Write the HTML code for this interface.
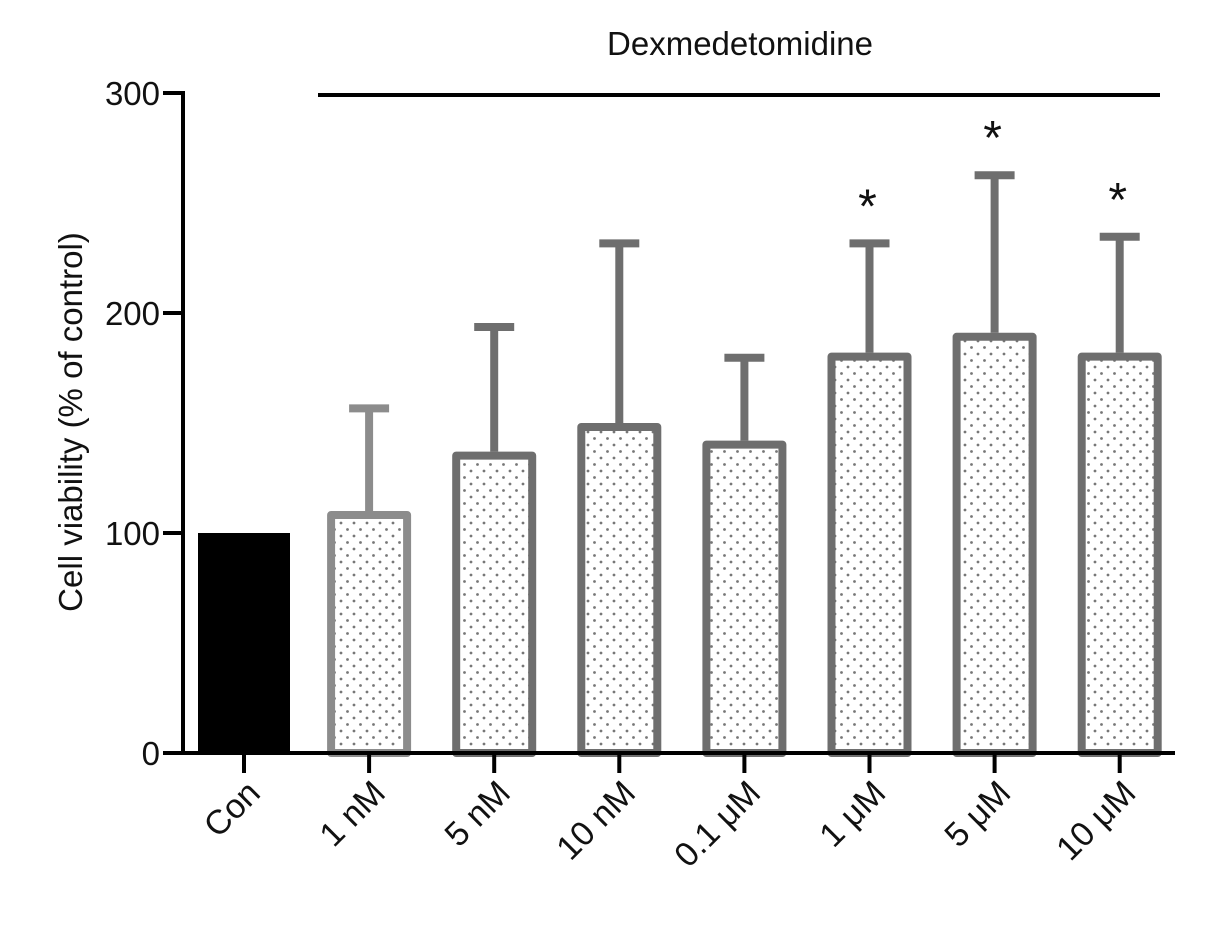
<!DOCTYPE html>
<html><head><meta charset="utf-8"><style>
body{margin:0;background:#fff}
svg text{font-family:"Liberation Sans",Arial,sans-serif}
</style></head><body>
<svg id="chart" width="1205" height="922" xmlns="http://www.w3.org/2000/svg">
<defs>
<pattern id="dots" width="13" height="13" patternUnits="userSpaceOnUse">
<rect width="13" height="13" fill="#fff"/>
<circle cx="3" cy="3" r="1.4" fill="#777"/>
<circle cx="9.5" cy="9.5" r="1.4" fill="#777"/>
</pattern>
</defs>
<g id="plot"></g>
</svg>
<script>
const categories=["Con","1 nM","5 nM","10 nM","0.1 \u03bcM","1 \u03bcM","5 \u03bcM","10 \u03bcM"];
const means=[100,110,137,150,142,182,191,182];
const errors=[0,48,58,83,39,51,73,54];
const significant=[false,false,false,false,false,true,true,true];
const yTicks=[0,100,200,300];
const NS="http://www.w3.org/2000/svg";
const g=document.getElementById('plot');
const y0=753,yScale=2.2;
const yPos=v=>y0-v*yScale;
const xPos=i=>244+i*125.1;
function el(t,a){const e=document.createElementNS(NS,t);for(const k in a)e.setAttribute(k,a[k]);g.appendChild(e);return e;}
categories.forEach((c,i)=>{
  const cx=xPos(i),w=i===0?92:84;
  if(i===0){
    const r=el('rect',{x:cx-w/2,y:yPos(means[i]),width:w,height:y0-yPos(means[i]),fill:'#000'});
    
    
  }else{
    const col=i===1?'#8c8c8c':'#6e6e6e';
    const top=yPos(means[i]),etop=yPos(means[i]+errors[i]);
    const l=el('line',{x1:cx,x2:cx,y1:top,y2:etop,stroke:col,'stroke-width':8});
    
    
    const cap=el('line',{x1:cx-20,x2:cx+20,y1:etop+3,y2:etop+3,stroke:col,'stroke-width':8});
    
    
    const r=el('rect',{x:cx-w/2+4,y:top+4,width:w-8,height:y0-top-4,fill:'url(#dots)',stroke:col,'stroke-width':8,'stroke-linejoin':'round'});
    
    
    if(significant[i]){
      const s=el('text',{x:cx-2,y:etop-18,'font-size':48,'text-anchor':'middle',fill:'#111'});
      s.textContent='*';
      
      
    }
  }
  const tk=el('line',{x1:cx,x2:cx,y1:y0,y2:y0+20,stroke:'#000','stroke-width':4});
  
  
  const tx=cx+18,ty=y0+42;
  const t=el('text',{x:tx,y:ty,'font-size':34,'text-anchor':'end',fill:'#111',transform:`rotate(-45 ${tx} ${ty})`});
  t.textContent=c;
  
  
});
const ya=el('line',{x1:183,x2:183,y1:91,y2:755,stroke:'#000','stroke-width':4});


const xa=el('line',{x1:181,x2:1175,y1:y0,y2:y0,stroke:'#000','stroke-width':4});


yTicks.forEach(v=>{
  const l=el('line',{x1:163,x2:183,y1:yPos(v),y2:yPos(v),stroke:'#000','stroke-width':4});
  
  
  const t=el('text',{x:160,y:yPos(v)+12,'font-size':33,'text-anchor':'end',fill:'#111'});
  t.textContent=v;
  
  
});
const yt=el('text',{x:0,y:0,'font-size':33,'text-anchor':'middle',fill:'#111',transform:'translate(82 422) rotate(-90)'});
yt.textContent='Cell viability (% of control)';


const br=el('line',{x1:318,x2:1160,y1:95,y2:95,stroke:'#000','stroke-width':4});


const gt=el('text',{x:740,y:55,'font-size':33,'text-anchor':'middle',fill:'#111'});
gt.textContent='Dexmedetomidine';


</script>
</body></html>
